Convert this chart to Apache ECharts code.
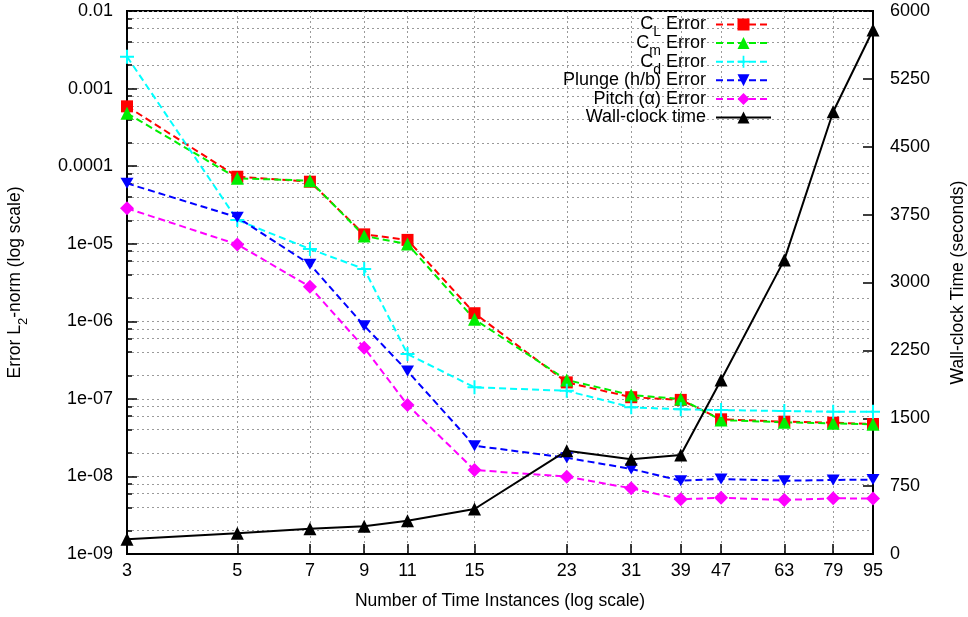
<!DOCTYPE html>
<html>
<head>
<meta charset="utf-8">
<script src="https://cdn.jsdelivr.net/npm/echarts@6/dist/echarts.min.js"></script>
<style>
  html, body { margin: 0; padding: 0; background: #fff; }
  #chart { width: 968px; height: 617px; }
</style>
</head>
<body>
<div id="chart"></div>
<script>
// ---- data ----
var timeInstances = [3, 5, 7, 9, 11, 15, 23, 31, 39, 47, 63, 79, 95];
var clError = [5.9e-4, 7.3e-5, 6.3e-5, 1.32e-5, 1.12e-5, 1.27e-6, 1.63e-7, 1.05e-7, 9.7e-8, 5.45e-8, 5.08e-8, 4.93e-8, 4.74e-8];
var cmError = [4.8e-4, 6.97e-5, 6.5e-5, 1.26e-5, 9.9e-6, 1.06e-6, 1.75e-7, 1.12e-7, 9.95e-8, 5.33e-8, 4.99e-8, 4.84e-8, 4.7e-8];
var cdError = [2.58e-3, 2.02e-5, 8.55e-6, 4.72e-6, 3.78e-7, 1.41e-7, 1.27e-7, 7.78e-8, 7.33e-8, 7.18e-8, 6.97e-8, 6.83e-8, 6.8e-8];
var plungeError = [6.0e-5, 2.19e-5, 5.42e-6, 8.77e-7, 2.28e-7, 2.49e-8, 1.74e-8, 1.25e-8, 8.8e-9, 9.27e-9, 8.8e-9, 9.0e-9, 9.1e-9];
var pitchError = [2.86e-5, 9.8e-6, 2.79e-6, 4.56e-7, 8.34e-8, 1.21e-8, 9.93e-9, 7.03e-9, 5.07e-9, 5.32e-9, 4.97e-9, 5.22e-9, 5.2e-9];
var wallClock = [162, 229, 280, 306, 368, 497, 1142, 1046, 1094, 1923, 3250, 4887, 5790];

var errorTickValues = [1e-9, 1e-8, 1e-7, 1e-6, 1e-5, 1e-4, 1e-3, 1e-2];
var errorTickLabels = ['1e-09', '1e-08', '1e-07', '1e-06', '1e-05', '0.0001', '0.001', '0.01'];
var errorMinorTicks = [2e-9, 4e-9, 6e-9, 8e-9, 2e-8, 4e-8, 6e-8, 8e-8, 2e-7, 4e-7, 6e-7, 8e-7,
                       2e-6, 4e-6, 6e-6, 8e-6, 2e-5, 4e-5, 6e-5, 8e-5, 2e-4, 4e-4, 6e-4, 8e-4,
                       2e-3, 4e-3, 6e-3, 8e-3];

// ---- chart ----
var FONT = '"Liberation Sans", Arial, Helvetica, sans-serif';
function pairs(ys) { return timeInstances.map(function (x, i) { return [x, ys[i]]; }); }
var plusPath = 'path://M6,0H8V6H14V8H8V14H6V8H0V6H6Z';
var downTri = 'path://M0,0L2,0L1,1.75Z';
var gridLine = { show: true, lineStyle: { color: '#9a9a9a', width: 1, type: [2, 3] } };

function errSeries(name, ys, color, symbol, size) {
  return {
    name: name, type: 'line', yAxisIndex: 0, data: pairs(ys),
    symbol: symbol, symbolSize: size, clip: false,
    lineStyle: { color: color, width: 2, type: [7, 4] },
    itemStyle: { color: color, borderWidth: 0 },
    emphasis: { disabled: true }
  };
}

var chart = echarts.init(document.getElementById('chart'), null, { renderer: 'canvas' });
chart.setOption({
  animation: false,
  backgroundColor: '#ffffff',
  textStyle: { fontFamily: FONT },
  grid: { left: 127, right: 95, top: 11, bottom: 63, show: true, borderColor: '#000', borderWidth: 2,
          containLabel: false, outerBoundsMode: 'none' },
  legend: {
    orient: 'vertical', align: 'right', right: 196, top: 9.5, padding: 0,
    itemWidth: 55, itemHeight: 15, itemGap: -11.4,
    data: ['CL', 'Cm', 'Cd', 'Plunge', 'Pitch', 'Wall'],
    formatter: function (n) {
      return {
        CL: 'C{sub|L} Error',
        Cm: 'C{sub|m} Error',
        Cd: 'C{sub|d} Error',
        Plunge: 'Plunge (h/b) Error',
        Pitch: 'Pitch (\u03b1) Error',
        Wall: 'Wall-clock time'
      }[n];
    },
    textStyle: {
      fontFamily: FONT, fontSize: 18, color: '#000', lineHeight: 30, padding: [0, 5, 0, 0],
      rich: { sub: { fontFamily: FONT, fontSize: 14, verticalAlign: 'bottom', color: '#000' } }
    }
  },
  xAxis: {
    type: 'log', logBase: 10, min: 3, max: 95,
    name: 'Number of Time Instances (log scale)', nameLocation: 'middle', nameGap: 38,
    nameTextStyle: { fontFamily: FONT, fontSize: 17.5, color: '#000' },
    axisLine: { show: true, lineStyle: { color: '#000', width: 2 } },
    axisTick: { show: true, inside: true, length: 10, customValues: timeInstances, lineStyle: { color: '#000', width: 1.5 } },
    axisLabel: { customValues: timeInstances, margin: 8, fontFamily: FONT, fontSize: 18, color: '#000',
      formatter: function (v) { return String(Math.round(v)); } },
    splitLine: gridLine,
    minorTick: { show: false }
  },
  yAxis: [
    {
      type: 'log', logBase: 10, min: 1e-9, max: 1e-2, position: 'left',
      name: 'Error L{sub|2}-norm (log scale)', nameLocation: 'middle', nameGap: 97,
      nameTextStyle: { fontFamily: FONT, fontSize: 17.5, color: '#000', lineHeight: 30,
        rich: { sub: { fontFamily: FONT, fontSize: 13, verticalAlign: 'bottom', color: '#000' } } },
      axisLine: { show: true, lineStyle: { color: '#000', width: 2 } },
      axisTick: { show: true, inside: true, length: 10, customValues: errorTickValues, lineStyle: { color: '#000', width: 1.5 } },
      axisLabel: { customValues: errorTickValues, margin: 14, fontFamily: FONT, fontSize: 18, color: '#000',
        formatter: function (v) {
          var e = Math.round(Math.log(v) / Math.LN10);
          var idx = errorTickValues.findIndex(function (t) { return Math.round(Math.log(t) / Math.LN10) === e; });
          return idx >= 0 ? errorTickLabels[idx] : '';
        } },
      splitLine: gridLine
    },
    {
      type: 'log', logBase: 10, min: 1e-9, max: 1e-2, position: 'left',
      axisLine: { show: false },
      axisTick: { show: true, inside: true, length: 5, customValues: errorMinorTicks, lineStyle: { color: '#000', width: 1.5 } },
      axisLabel: { show: false, customValues: errorMinorTicks },
      splitLine: gridLine
    },
    {
      type: 'value', min: 0, max: 6000, interval: 750, position: 'right',
      name: 'Wall-clock Time (seconds)', nameLocation: 'middle', nameGap: 76,
      nameTextStyle: { fontFamily: FONT, fontSize: 17.5, color: '#000' },
      axisLine: { show: true, lineStyle: { color: '#000', width: 2 } },
      axisTick: { show: true, inside: true, length: 10, lineStyle: { color: '#000', width: 1.5 } },
      axisLabel: { margin: 17, fontFamily: FONT, fontSize: 18, color: '#000',
        formatter: function (v) { return String(v); } },
      splitLine: { show: false }
    }
  ],
  series: [
    errSeries('CL', clError, '#ff0000', 'rect', 12),
    errSeries('Cm', cmError, '#00ee00', 'triangle', 13),
    errSeries('Cd', cdError, '#00ffff', plusPath, 14),
    errSeries('Plunge', plungeError, '#0000ff', downTri, [13, 11]),
    errSeries('Pitch', pitchError, '#ff00ff', 'diamond', [14, 14]),
    {
      name: 'Wall', type: 'line', yAxisIndex: 2, data: pairs(wallClock),
      symbol: 'triangle', symbolSize: 13, clip: false,
      lineStyle: { color: '#000', width: 2, type: 'solid' },
      itemStyle: { color: '#000', borderWidth: 0 },
      emphasis: { disabled: true }
    }
  ]
});
</script>
</body>
</html>
